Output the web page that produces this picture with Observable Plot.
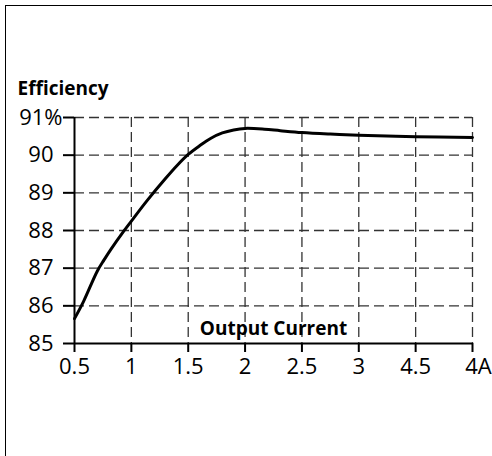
<!DOCTYPE html>
<html><head><meta charset="utf-8">
<script src="https://cdn.jsdelivr.net/npm/d3@7"></script>
<script src="https://cdn.jsdelivr.net/npm/@observablehq/plot@0.6"></script>
<style>
html,body{margin:0;padding:0;background:#fff;}
#frame{position:absolute;left:5px;top:5px;right:0;bottom:0;border-left:1.5px solid #000;border-top:1.5px solid #000;}
#chart{position:absolute;left:0;top:0;}
</style></head><body><div id="frame"></div><div id="chart"></div>
<script>
const current = [0.5, 0.58, 0.7, 0.76, 0.82, 0.93, 1.0, 1.14, 1.3, 1.4, 1.5, 1.6, 1.7, 1.8, 1.9, 2.0, 2.17, 2.31, 2.5, 2.75, 3.0, 3.5, 4.0];
const efficiency = [85.66, 86.12, 86.92, 87.22, 87.5, 87.97, 88.25, 88.8, 89.38, 89.72, 90.02, 90.25, 90.45, 90.59, 90.67, 90.71, 90.69, 90.65, 90.6, 90.56, 90.53, 90.49, 90.47];
const xTicks = [0.5, 1, 1.5, 2, 2.5, 3, 3.5, 4];
const xTickLabels = ["0.5", "1", "1.5", "2", "2.5", "3", "4.5", "4A"];
const yTicks = [85, 86, 87, 88, 89, 90, 91];
const yTickLabels = ["85", "86", "87", "88", "89", "90", "91%"];
const yTitle = "Efficiency";
const xTitle = "Output Current";

const data = current.map((c, i) => ({current: c, efficiency: efficiency[i]}));
const xLab = d => xTickLabels[xTicks.indexOf(d)];
const yLab = d => yTickLabels[yTicks.indexOf(d)];
const gridStyle = {stroke: "#333", strokeOpacity: 1, strokeWidth: 1.3, strokeDasharray: "10,5"};
const font = "'Open Sans', sans-serif";

const chart = Plot.plot({
  width: 492, height: 456,
  marginLeft: 74, marginRight: 20, marginTop: 117, marginBottom: 113,
  style: {fontFamily: font, fontSize: "22px", color: "#000", background: "transparent"},
  x: {domain: [0.5, 4]},
  y: {domain: [85, 91]},
  marks: [
    Plot.gridY(yTicks.slice(1), gridStyle),
    Plot.gridX(xTicks.slice(1), gridStyle),
    Plot.axisY(yTicks.slice(0, -1), {tickSize: 11, tickPadding: 10, tickFormat: yLab, strokeWidth: 2, fontSize: 22, label: null}),
    Plot.axisY(yTicks.slice(-1), {tickSize: 11, tickPadding: 1, tickFormat: yLab, strokeWidth: 2, fontSize: 22, label: null}),
    Plot.axisX(xTicks, {tickSize: 9, tickPadding: 6, tickFormat: d => d === 4 ? "" : xLab(d), strokeWidth: 2, fontSize: 22, label: null}),
    Plot.axisX([4], {tickSize: 0, tickPadding: 15, tickFormat: xLab, dx: 6, fontSize: 22, label: null}),
    Plot.ruleX([0.5], {strokeWidth: 2}),
    Plot.ruleY([85], {strokeWidth: 2}),
    Plot.line(data, {x: "current", y: "efficiency", curve: "catmull-rom", strokeWidth: 3, stroke: "#000"}),
    Plot.text([yTitle], {frameAnchor: "top-left", textAnchor: "start", lineAnchor: "middle", dx: -57, dy: -29, fontWeight: "bold", fontSize: 19}),
    Plot.text([xTitle], {frameAnchor: "bottom", lineAnchor: "middle", dy: -15, fontWeight: "bold", fontSize: 19})
  ]
});
document.getElementById("chart").appendChild(chart);
</script></body></html>
